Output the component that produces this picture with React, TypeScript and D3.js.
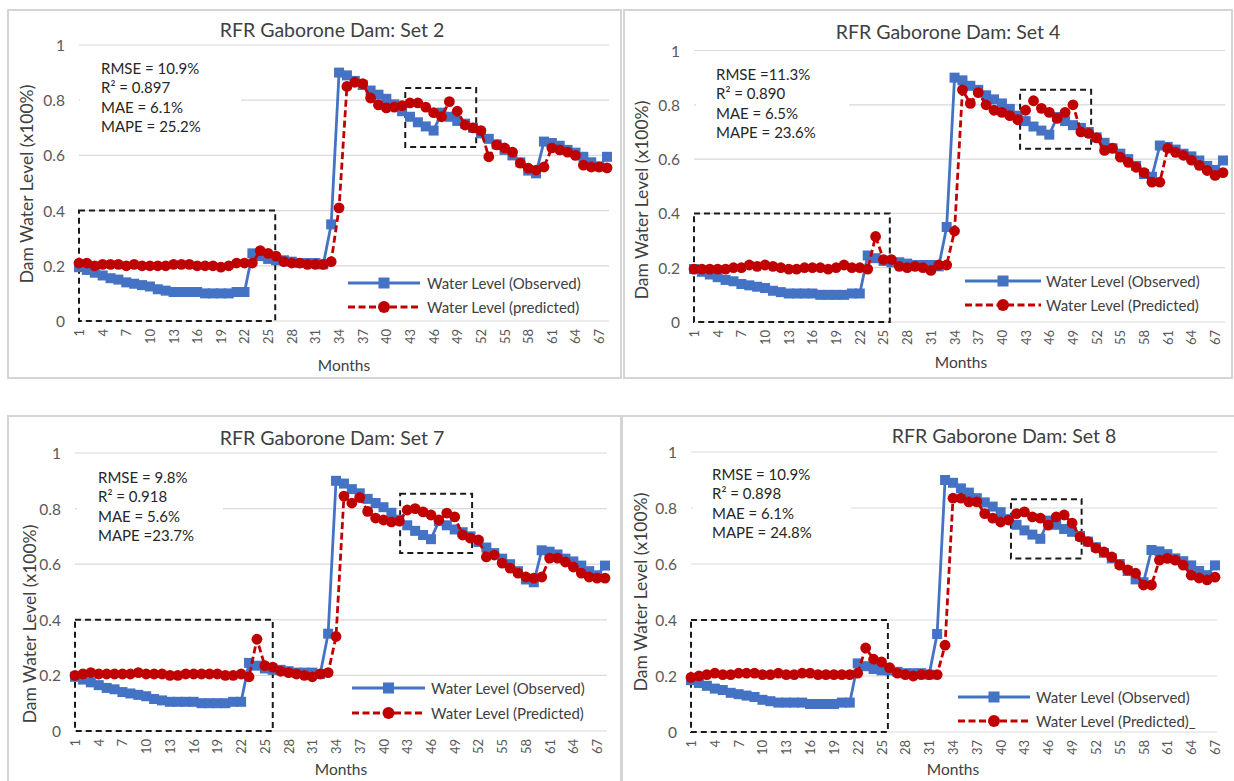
import React from 'react';
import * as d3 from 'd3';

const FONT = 'Lato, "Open Sans", sans-serif';
const BLUE = '#4472C4';
const RED = '#C00000';
const GRID = '#d9d9d9';

// observed dam level, months 1..68
const observed = [
  0.195, 0.185, 0.175, 0.165, 0.155, 0.15, 0.14, 0.135, 0.13, 0.125,
  0.115, 0.11, 0.105, 0.105, 0.105, 0.105, 0.10, 0.10, 0.10, 0.10,
  0.105, 0.105, 0.245, 0.235, 0.225, 0.22, 0.22, 0.215, 0.21, 0.21,
  0.21, 0.205, 0.35, 0.90, 0.89, 0.87, 0.855, 0.835, 0.82, 0.805,
  0.785, 0.76, 0.74, 0.72, 0.705, 0.69, 0.755, 0.74, 0.725, 0.715,
  0.70, 0.68, 0.66, 0.64, 0.62, 0.60, 0.575, 0.545, 0.535, 0.65,
  0.645, 0.635, 0.62, 0.61, 0.595, 0.575, 0.56, 0.595,
];

const predictedSet2 = [
  0.21, 0.21, 0.20, 0.205, 0.205, 0.205, 0.20, 0.205, 0.20, 0.20,
  0.20, 0.20, 0.205, 0.205, 0.205, 0.20, 0.20, 0.20, 0.195, 0.20,
  0.21, 0.21, 0.21, 0.255, 0.245, 0.235, 0.215, 0.21, 0.21, 0.205,
  0.205, 0.205, 0.215, 0.41, 0.85, 0.865, 0.86, 0.808, 0.783, 0.772,
  0.775, 0.78, 0.79, 0.79, 0.775, 0.755, 0.74, 0.795, 0.76, 0.71,
  0.70, 0.69, 0.595, 0.638, 0.627, 0.612, 0.572, 0.554, 0.547, 0.558,
  0.627, 0.62, 0.612, 0.60, 0.565, 0.558, 0.558, 0.555,
];

const predictedSet4 = [
  0.195, 0.195, 0.195, 0.195, 0.195, 0.20, 0.20, 0.21, 0.205, 0.21,
  0.205, 0.20, 0.195, 0.195, 0.20, 0.20, 0.20, 0.195, 0.20, 0.21,
  0.20, 0.20, 0.195, 0.315, 0.23, 0.23, 0.205, 0.20, 0.205, 0.20,
  0.19, 0.21, 0.21, 0.335, 0.855, 0.805, 0.845, 0.80, 0.78, 0.772,
  0.76, 0.745, 0.78, 0.815, 0.787, 0.772, 0.75, 0.772, 0.80, 0.70,
  0.695, 0.678, 0.632, 0.64, 0.607, 0.588, 0.57, 0.55, 0.515, 0.515,
  0.64, 0.625, 0.614, 0.596, 0.577, 0.558, 0.54, 0.55,
];

const predictedSet7 = [
  0.20, 0.205, 0.21, 0.205, 0.205, 0.205, 0.205, 0.205, 0.21, 0.205,
  0.205, 0.205, 0.20, 0.20, 0.205, 0.205, 0.205, 0.205, 0.205, 0.20,
  0.20, 0.205, 0.195, 0.33, 0.235, 0.23, 0.215, 0.21, 0.205, 0.20,
  0.195, 0.205, 0.21, 0.34, 0.845, 0.82, 0.84, 0.79, 0.766, 0.759,
  0.752, 0.755, 0.795, 0.80, 0.788, 0.777, 0.759, 0.784, 0.77, 0.705,
  0.694, 0.687, 0.626, 0.633, 0.604, 0.586, 0.568, 0.554, 0.55, 0.554,
  0.622, 0.622, 0.608, 0.59, 0.568, 0.554, 0.55, 0.55,
];

// set 8 chart starts one month later (67 points)
const observedSet8 = observed.slice(1);
const predictedSet8 = [
  0.195, 0.20, 0.205, 0.21, 0.205, 0.205, 0.21, 0.21, 0.21, 0.205,
  0.205, 0.21, 0.205, 0.205, 0.21, 0.21, 0.205, 0.205, 0.205, 0.205,
  0.205, 0.21, 0.30, 0.26, 0.25, 0.23, 0.21, 0.205, 0.20, 0.205,
  0.205, 0.205, 0.31, 0.835, 0.835, 0.822, 0.822, 0.78, 0.764, 0.75,
  0.757, 0.78, 0.786, 0.768, 0.764, 0.739, 0.768, 0.775, 0.746, 0.697,
  0.68, 0.657, 0.643, 0.625, 0.596, 0.579, 0.567, 0.525, 0.525, 0.614,
  0.62, 0.614, 0.596, 0.56, 0.55, 0.543, 0.553,
];

const yTicks = [0, 0.2, 0.4, 0.6, 0.8, 1];
const yTickLabels = ['0', '0.2', '0.4', '0.6', '0.8', '1'];
const monthTicks = [1, 4, 7, 10, 13, 16, 19, 22, 25, 28, 31, 34, 37, 40, 43, 46, 49, 52, 55, 58, 61, 64, 67];

const titles = ['RFR Gaborone Dam: Set 2', 'RFR Gaborone Dam: Set 4', 'RFR Gaborone Dam: Set 7', 'RFR Gaborone Dam: Set 8'];
const statsSet2 = ['RMSE = 10.9%', 'R² = 0.897', 'MAE = 6.1%', 'MAPE = 25.2%'];
const statsSet4 = ['RMSE =11.3%', 'R² = 0.890', 'MAE = 6.5%', 'MAPE = 23.6%'];
const statsSet7 = ['RMSE = 9.8%', 'R² = 0.918', 'MAE = 5.6%', 'MAPE =23.7%'];
const statsSet8 = ['RMSE = 10.9%', 'R² = 0.898', 'MAE = 6.1%', 'MAPE = 24.8%'];
const legendObserved = 'Water Level (Observed)';
const legendPredicted = ['Water Level (predicted)', 'Water Level (Predicted)', 'Water Level (Predicted)', 'Water Level (Predicted)_'];
const yTitle = 'Dam Water Level (x100%)';
const xTitle = 'Months';

// highlight boxes in [month, month, value, value]
const boxes = [
  [[1, 25.9, 0, 0.4], [42.4, 51.4, 0.63, 0.844]],
  [[1, 25.8, 0, 0.4], [42.3, 51.3, 0.638, 0.855]],
  [[1, 26, 0, 0.4], [42.1, 51.2, 0.64, 0.853]],
  [[1, 25.8, 0, 0.4], [41.3, 50.2, 0.62, 0.831]],
];

const layouts = [
  { frame: [8, 10, 613, 368], plot: [79, 607, 45, 321], title: [332, 29], yTitle: [26, 184],
    stats: [101, 68], statsBox: [80, 55, 161, 86], legend: [348, 420, 427, 283, 307], months: [344, 365] },
  { frame: [624, 10, 608, 368], plot: [694, 1223, 50.5, 322], title: [948, 31], yTitle: [641, 200],
    stats: [716, 74], statsBox: [696, 60, 153, 85], legend: [965, 1041, 1046, 281, 305], months: [961, 362] },
  { frame: [8, 416, 613, 380], plot: [75, 605, 453, 731], title: [332, 437], yTitle: [29, 624],
    stats: [98, 477], statsBox: [77, 463, 146, 85], legend: [352, 425, 431, 688, 713], months: [341, 769] },
  { frame: [622, 416, 620, 380], plot: [691, 1215, 452, 732], title: [1004, 435], yTitle: [640, 592],
    stats: [712, 474], statsBox: [693, 462, 158, 84], legend: [958, 1030, 1036, 697, 721], months: [953, 769] },
];

const series = [
  { obs: observed, pred: predictedSet2, stats: statsSet2 },
  { obs: observed, pred: predictedSet4, stats: statsSet4 },
  { obs: observed, pred: predictedSet7, stats: statsSet7 },
  { obs: observedSet8, pred: predictedSet8, stats: statsSet8 },
];

const Square = ({ cx, cy, s = 10 }: { cx: number; cy: number; s?: number }) => (
  <rect x={cx - s / 2} y={cy - s / 2} width={s} height={s} fill={BLUE} />
);

const Panel = ({ idx }: { idx: number }) => {
  const L = layouts[idx];
  const S = series[idx];
  const [left, right, top, bottom] = L.plot;
  const n = S.obs.length;
  const x = d3.scaleLinear().domain([1, n]).range([left, right]);
  const y = d3.scaleLinear().domain([0, 1]).range([bottom, top]);
  const line = d3.line<number>().x((_, i) => x(i + 1)).y(d => y(d));
  const [lx1, lx2, ltx, ly1, ly2] = L.legend;
  const lmid = (lx1 + lx2) / 2;

  return (
    <g>
      <rect x={L.frame[0]} y={L.frame[1]} width={L.frame[2]} height={L.frame[3]}
        fill="#fff" stroke="#d4d4d4" strokeWidth={2} />
      {/* gridlines */}
      {yTicks.map(t => (
        <line key={t} x1={left} x2={right + 2} y1={y(t)} y2={y(t)} stroke={GRID} strokeWidth={1.2} />
      ))}
      <rect x={L.statsBox[0]} y={L.statsBox[1]} width={L.statsBox[2]} height={L.statsBox[3]} fill="#fff" />
      {yTicks.map((t, i) => (
        <text key={t} x={left - 14} y={y(t)} textAnchor="end" dominantBaseline="central"
          fontSize={15.5} fill="#595959">{yTickLabels[i]}</text>
      ))}
      {monthTicks.map(m => (
        <text key={m} transform={`translate(${x(m)},${bottom + 8}) rotate(-90)`} textAnchor="end"
          dominantBaseline="central" fontSize={13} fill="#595959">{m}</text>
      ))}
      <text transform={`translate(${L.yTitle[0]},${L.yTitle[1]}) rotate(-90)`} textAnchor="middle"
        dominantBaseline="central" fontSize={17.5} fill="#404040">{yTitle}</text>
      <text x={L.months[0]} y={L.months[1]} textAnchor="middle" dominantBaseline="central"
        fontSize={15.5} fill="#404040">{xTitle}</text>
      <text x={L.title[0]} y={L.title[1]} textAnchor="middle" dominantBaseline="central"
        fontSize={19.5} fill="#404040">{titles[idx]}</text>
      {S.stats.map((s, i) => (
        <text key={s} x={L.stats[0]} y={L.stats[1] + i * 19.4} dominantBaseline="central"
          fontSize={15} fill="#262626">{s}</text>
      ))}
      {/* highlight boxes */}
      {boxes[idx].map((b, i) => (
        <rect key={i} x={x(b[0])} y={y(b[3])} width={x(b[1]) - x(b[0])} height={y(b[2]) - y(b[3])}
          fill="none" stroke="#1a1a1a" strokeWidth={2} strokeDasharray="6,4" />
      ))}
      {/* observed */}
      <path d={line(S.obs) || ''} fill="none" stroke={BLUE} strokeWidth={2.8} />
      {S.obs.map((d, i) => <Square key={i} cx={x(i + 1)} cy={y(d)} />)}
      {/* predicted */}
      <path d={line(S.pred) || ''} fill="none" stroke={RED} strokeWidth={2.8} strokeDasharray="7,3.5" />
      {S.pred.map((d, i) => <circle key={i} cx={x(i + 1)} cy={y(d)} r={5.4} fill={RED} />)}
      {/* legend */}
      <line x1={lx1} x2={lx2} y1={ly1} y2={ly1} stroke={BLUE} strokeWidth={2.8} />
      <Square cx={lmid} cy={ly1} s={11} />
      <text x={ltx} y={ly1} dominantBaseline="central" fontSize={15} fill="#404040">{legendObserved}</text>
      <line x1={lx1} x2={lx2} y1={ly2} y2={ly2} stroke={RED} strokeWidth={2.8} strokeDasharray="7,3.5" />
      <circle cx={lmid} cy={ly2} r={6} fill={RED} />
      <text x={ltx} y={ly2} dominantBaseline="central" fontSize={15} fill="#404040">{legendPredicted[idx]}</text>
    </g>
  );
};

export default function App() {
  return (
    <svg width={1234} height={781} style={{ position: 'absolute', left: 0, top: 0, background: '#fff' }}
      fontFamily={FONT}>
      <rect width={1234} height={781} fill="#fff" />
      {[0, 1, 2, 3].map(i => <Panel key={i} idx={i} />)}
    </svg>
  );
}
